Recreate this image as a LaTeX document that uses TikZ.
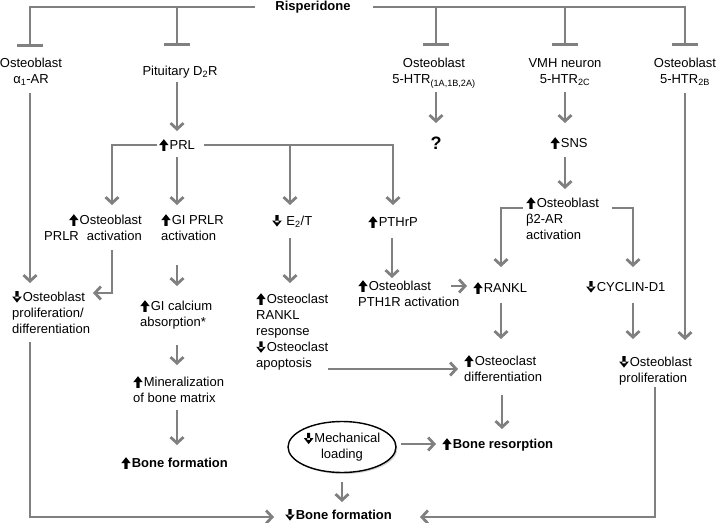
\documentclass[tikz,border=0pt]{standalone}
\usepackage{fontspec}
\setmainfont{Liberation Sans}
\usetikzlibrary{arrows.meta,calc,shapes.geometric,shadows}
\definecolor{lg}{RGB}{128,128,128}
\newcommand\upar{\tikz[baseline=0pt,x=1pt,y=1pt]{\fill[black] (-1.6,-1.6) rectangle (1.6,5) (-4.8,4)--(0,10)--(4.8,4)--cycle;}\hspace{1pt}}
\newcommand\dnar{\tikz[baseline=0pt,x=1pt,y=1pt]{\fill[black] (-1.6,2.6) rectangle (1.6,9.8) (-4.8,4.4)--(0,-1.6)--(4.8,4.4)--cycle;}\hspace{1pt}}
\begin{document}
\begin{tikzpicture}[x=1pt,y=-1pt,
  font=\fontsize{13}{16}\selectfont,
  txt/.style={inner sep=0pt,align=left,anchor=north west},
  ctxt/.style={inner sep=0pt,align=center,anchor=north},
  arr/.style={draw=lg,line width=2.8pt,-{Straight Barb[length=6pt,width=13pt]}},
  inh/.style={draw=lg,line width=2.8pt,-{Bar[width=26pt]}},
  ln/.style={draw=lg,line width=2.8pt}]
\fill[white] (0,0) rectangle (717,522);
\useasboundingbox (0,0) rectangle (717,522);

% nodes
\node[inner sep=0pt,font=\fontsize{13}{16}\selectfont\bfseries] (risp) at (313,7) {Risperidone};
\node[ctxt] (a1) at (31,58) {Osteoblast\\α\textsubscript{1}-AR};
\node[inner sep=0pt] (d2r) at (180,72) {Pituitary D\textsubscript{2}R};
\node[ctxt] (ht1) at (434,58) {Osteoblast\\5-HTR\textsubscript{(1A,1B,2A)}};
\node[ctxt] (vmh) at (565,58) {VMH neuron\\5-HTR\textsubscript{2C}};
\node[ctxt] (ht2b) at (685,58) {Osteoblast\\5-HTR\textsubscript{2B}};
\node[inner sep=0pt] (prl) at (177,145) {\upar PRL};
\node[inner sep=0pt,font=\fontsize{18}{20}\selectfont\bfseries] (q) at (436,143) {?};
\node[inner sep=0pt] (sns) at (569,143) {\upar SNS};
\node[inner sep=0pt,align=right,anchor=north east] (oprlr) at (142,214) {\upar Osteoblast\\PRLR\hspace{8pt}activation\hspace{3pt}};
\node[txt] (gi) at (161,214) {\upar GI PRLR\\activation};
\node[txt] (e2t) at (272,215) {\dnar\ E\textsubscript{2}/T};
\node[txt] (pthrp) at (368,216) {\upar PTHrP};
\node[txt] (b2) at (526,197) {\upar Osteoblast\\β2-AR\\activation};
\node[txt] (opd) at (12,291) {\dnar Osteoblast\\proliferation/\\differentiation};
\node[txt] (gica) at (140,300) {\upar GI calcium\\absorption*};
\node[txt] (ocl) at (256,293) {\upar Osteoclast\\RANKL\\response\\\dnar Osteoclast\\apoptosis};
\node[txt] (pth1r) at (358,280) {\upar Osteoblast\\PTH1R activation};
\node[txt] (rankl) at (473,282) {\upar RANKL};
\node[txt] (cyc) at (586,281) {\dnar CYCLIN-D1};
\node[txt] (odiff) at (464,355) {\upar Osteoclast\\differentiation};
\node[txt] (obprol) at (619,356) {\dnar Osteoblast\\proliferation};
\node[txt] (miner) at (133,376) {\upar Mineralization\\of bone matrix};
\node[txt,font=\fontsize{13}{16}\selectfont\bfseries] (bf2) at (121,457) {\upar Bone formation};
\node[txt,font=\fontsize{13}{16}\selectfont\bfseries] (bres) at (442,438) {\upar Bone resorption};
\node[ellipse,draw=black,line width=1.4pt,fill=white,minimum width=105pt,minimum height=51pt,inner sep=0pt,align=center,
  drop shadow={shadow xshift=1.5pt,shadow yshift=-1.5pt,opacity=0.35}] (mech) at (342,447) {\dnar Mechanical\\loading};
\node[txt,font=\fontsize{13}{16}\selectfont\bfseries] (bf) at (285,509) {\dnar Bone formation};

% inhibition from risperidone
\draw[inh] ($(risp)+(-58,0)$) -| ($(a1.north)+(-1,-11)$);
\draw[inh] ($(risp)+(-58,0)$) -| ($(d2r)+(-3,-26)$);
\draw[inh] ($(risp)+(60,0)$) -| ($(ht1.north)+(2,-12)$);
\draw[inh] ($(risp)+(60,0)$) -| ($(vmh.north)+(0,-12)$);
\draw[inh] ($(risp)+(60,0)$) -| ($(ht2b.north)+(0,-12)$);

% arrows
\draw[arr] ($(d2r)+(-3,10)$) -- ($(prl)+(0,-14)$);
\draw[arr] ($(ht1.north)+(2,34)$) -- ($(q)+(0,-20)$);
\draw[arr] ($(vmh.north)+(0,34)$) -- ($(sns)+(-4,-20)$);
\draw[arr] ($(sns)+(-4,14)$) -- ($(b2.north west)+(39,-8)$);
\draw[arr] ($(prl)+(-20,0)$) -| ($(oprlr.north east)+(-30,-9)$);
\draw[arr] ($(prl)+(0,12)$) -- ($(gi.north west)+(16,-9)$);
\draw[arr] ($(prl)+(27,0)$) -| ($(e2t.north west)+(18,-10)$);
\draw[arr] ($(prl)+(27,0)$) -| ($(pthrp.north west)+(25,-11)$);
\draw[arr] ($(a1.north)+(-1,35)$) -- ($(opd.north west)+(18,-8)$);
\draw[arr] ($(oprlr.north east)+(-30,36)$) |- ($(opd.north west)+(81,2)$);
\draw[arr] ($(gi.north west)+(16,51)$) -- ($(gica.north west)+(37,-14)$);
\draw[arr] ($(e2t.north west)+(18,23)$) -- ($(ocl.north west)+(34,-10)$);
\draw[arr] ($(pthrp.north west)+(24,22)$) -- ($(pth1r.north west)+(34,-2)$);
\draw[arr] ($(pth1r.north west)+(93,6)$) -- ($(rankl.north west)+(-6,4)$);
\draw[arr] ($(b2.north west)+(-3,11)$) -| ($(rankl.north west)+(28,-15)$);
\draw[arr] ($(b2.north west)+(86,11)$) -| ($(cyc.north west)+(47,-14)$);
\draw[arr] ($(ht2b.north)+(0,35)$) -- ($(obprol.north west)+(66,-16)$);
\draw[arr] ($(rankl.north west)+(28,21)$) -- ($(odiff.north west)+(37,-16)$);
\draw[arr] ($(cyc.north west)+(47,22)$) -- ($(obprol.north west)+(14,-17)$);
\draw[arr] ($(ocl.north west)+(72,76)$) -- ($(odiff.north west)+(-6,14)$);
\draw[arr] ($(odiff.north west)+(38,40)$) -- ($(bres.north west)+(60,-9)$);
\draw[arr] ($(mech)+(59,-3)$) -- ($(bres.north west)+(-6,6)$);
\draw[arr] ($(mech)+(0,35)$) -- ($(bf.north west)+(57,-7)$);
\draw[arr] ($(gica.north west)+(37,45)$) -- ($(miner.north west)+(44,-11)$);
\draw[arr] ($(miner.north west)+(44,34)$) -- ($(bf2.north west)+(56,-12)$);
\draw[arr] ($(opd.north west)+(18,51)$) |- ($(bf.north west)+(-11,8)$);
\draw[arr] ($(obprol.north west)+(36,31)$) |- ($(bf.north west)+(135,8)$);
\end{tikzpicture}
\end{document}
